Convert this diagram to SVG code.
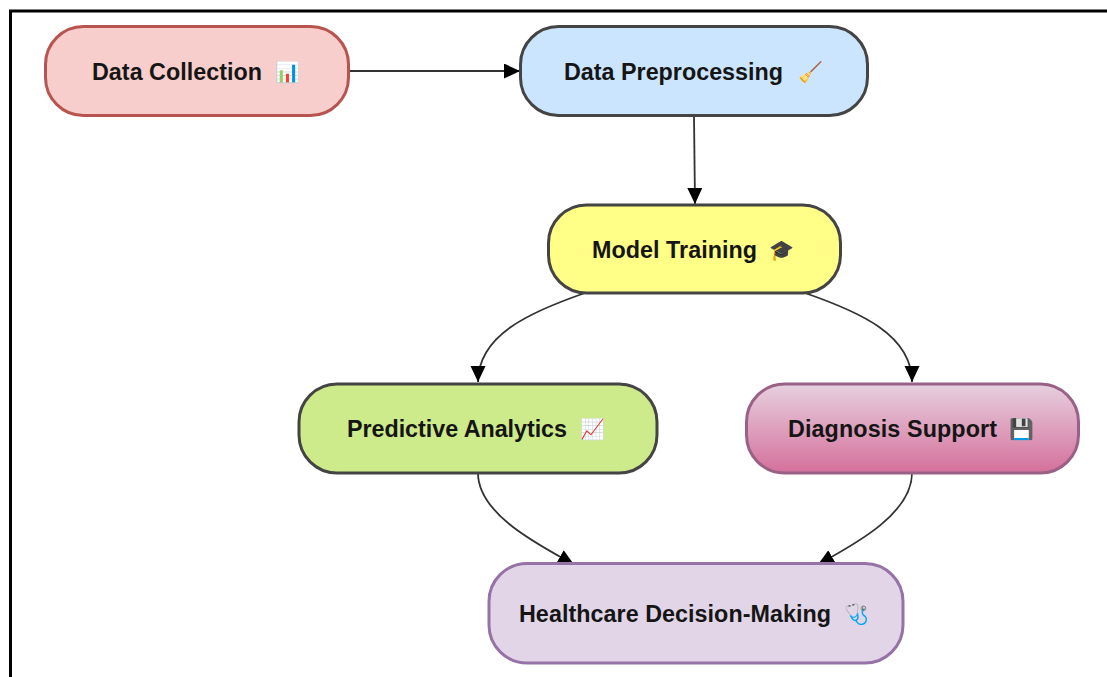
<svg xmlns="http://www.w3.org/2000/svg" width="1107" height="677" viewBox="0 0 1107 677">
<style>
.n{stroke-width:3}
.t{font-family:"Liberation Sans",Arial,sans-serif;font-weight:700;font-size:23.3px;fill:#151515}
.e{font-family:"Noto Sans",sans-serif;font-size:20px}
.c{fill:none;stroke:#333;stroke-width:1.8}
</style>
<defs>
<marker id="a" markerUnits="userSpaceOnUse" markerWidth="18" markerHeight="16" refX="16" refY="7.500" orient="auto"><path d="M0 0L16 7.500L0 15z" fill="#000"/></marker>
<linearGradient id="g" x1="0" y1="0" x2="0" y2="1"><stop offset="0" stop-color="#e6d0df"/><stop offset="1" stop-color="#d5709b"/></linearGradient>
</defs>
<rect width="1107" height="677" fill="#fff"/>
<path d="M10.500 677V11H1107" fill="none" stroke="#000" stroke-width="3"/>
<g id="connectors">
<path class="c" marker-end="url(#a)" d="M349 71H520"/>
<path class="c" marker-end="url(#a)" d="M694 116L695 204"/>
<path class="c" marker-end="url(#a)" d="M585 293C530 312 478 335 478 382"/>
<path class="c" marker-end="url(#a)" d="M805 293C860 312 912 335 912 382"/>
<path class="c" marker-end="url(#a)" d="M478 473C478 515 541 546 574 564.500"/>
<path class="c" marker-end="url(#a)" d="M912 473C912 515 851 546 818 564.500"/>
</g>
<g id="data-collection"><rect class="n" x="45.500" y="26.500" width="303" height="89" rx="38" fill="#f8cecc" stroke="#b85450"/><text class="t" x="92" y="80" textLength="170">Data Collection</text><text class="e" x="274.500" y="79">📊</text></g>
<g id="data-preprocessing"><rect class="n" x="520.500" y="26.500" width="347" height="89" rx="38" fill="#cce5ff" stroke="#444"/><text class="t" x="564" y="80" textLength="219">Data Preprocessing</text><text class="e" x="798" y="79">🧹</text></g>
<g id="model-training"><rect class="n" x="548.500" y="205" width="292" height="88" rx="38" fill="#ffff88" stroke="#444"/><text class="t" x="592" y="258" textLength="165">Model Training</text><text class="e" x="769" y="257">🎓</text></g>
<g id="predictive-analytics"><rect class="n" x="299" y="384" width="358" height="89" rx="38" fill="#cdeb8b" stroke="#444"/><text class="t" x="347" y="437" textLength="220">Predictive Analytics</text><text class="e" x="580" y="436">📈</text></g>
<g id="diagnosis-support"><rect class="n" x="746.500" y="384" width="332" height="89" rx="38" fill="url(#g)" stroke="#996185"/><text class="t" x="788" y="437" textLength="209">Diagnosis Support</text><text class="e" x="1009" y="436">💾</text></g>
<g id="healthcare-decision-making"><rect class="n" x="489" y="563.500" width="414" height="99.500" rx="38" fill="#e1d5e7" stroke="#9673a6"/><text class="t" x="519" y="622" textLength="312">Healthcare Decision-Making</text><text class="e" x="844" y="621">🩺</text></g>
</svg>
